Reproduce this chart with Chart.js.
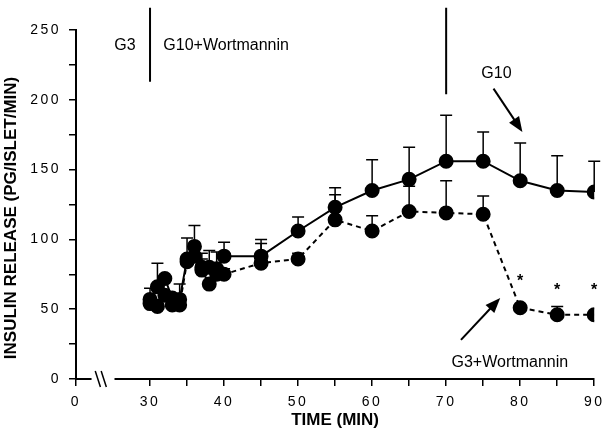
<!DOCTYPE html>
<html>
<head>
<meta charset="utf-8">
<script src="https://cdn.jsdelivr.net/npm/chart.js@4.4.1/dist/chart.umd.min.js"></script>
<style>
  html, body { margin: 0; background: #fff; }
  #wrap { width: 610px; height: 443px; }
</style>
</head>
<body>
<div id="wrap"><canvas id="insulinChart"></canvas></div>
<script>
  // time points (min); the axis is broken, "0" is drawn where 20 would be
  const times = [30, 31, 32, 33, 34, 35, 36, 37, 38, 39, 40, 45, 50, 55, 60, 65, 70, 75, 80, 85, 90];

  // G10+Wortmannin -> G10 (solid)
  const g10 = [57, 66, 72, 58, 57, 86, 95, 80, 80, 79, 88, 88, 106, 123, 135, 143, 156, 156, 142, 135, 134];
  const g10Err = [8, 17, 0, 0, 11, 15, 15, 10, 12, 12, 10, 12, 10, 14, 22, 23, 33, 21, 27, 25, 22];

  // G10+Wortmannin -> G3+Wortmannin (dashed)
  const g3wort = [54, 52, 60, 53, 53, 84, 88, 78, 68, 75, 75, 83, 86, 114, 106, 120, 119, 118, 51, 46, 46];
  const g3wortErr = [4, 5, 0, 0, 3, 3, 5, 8, 2, 4, 4, 14, 4, 18, 11, 18, 23, 13, 0, 6, 0];

  const starTimes = [80, 85, 90];
  const starLevels = [70, 63, 63];

  const zeroAt = 20;   // where the "0" tick sits on the broken axis
  const yTicks = [0, 50, 100, 150, 200, 250];
  const xTitle = 'TIME (MIN)';
  const yTitle = 'INSULIN RELEASE (PG/ISLET/MIN)';

  const FONT = "'Liberation Sans', Arial, Helvetica, sans-serif";

  function arrow(ctx, x1, y1, x2, y2) {
    const a = Math.atan2(y2 - y1, x2 - x1);
    const hl = 15, hw = 6;
    ctx.beginPath();
    ctx.moveTo(x1, y1);
    ctx.lineTo(x2 - Math.cos(a) * hl * 0.8, y2 - Math.sin(a) * hl * 0.8);
    ctx.stroke();
    ctx.beginPath();
    ctx.moveTo(x2, y2);
    ctx.lineTo(x2 - Math.cos(a) * hl - Math.sin(a) * hw, y2 - Math.sin(a) * hl + Math.cos(a) * hw);
    ctx.lineTo(x2 - Math.cos(a) * hl + Math.sin(a) * hw, y2 - Math.sin(a) * hl - Math.cos(a) * hw);
    ctx.closePath();
    ctx.fill();
  }

  const extras = {
    id: 'extras',
    beforeDraw(chart) {
      // spaced-out tick numbers like the original
      chart.ctx.letterSpacing = '2.5px';
    },
    beforeDatasetsDraw(chart) {
      const ctx = chart.ctx, xs = chart.scales.x, ys = chart.scales.y;
      ctx.save();
      ctx.strokeStyle = '#000';
      ctx.lineWidth = 1.5;
      [[g10, g10Err], [g3wort, g3wortErr]].forEach(([vals, errs]) => {
        times.forEach((t, i) => {
          if (!errs[i]) return;
          const x = xs.getPixelForValue(t);
          const y0 = ys.getPixelForValue(vals[i]);
          const y1 = ys.getPixelForValue(vals[i] + errs[i]);
          ctx.beginPath();
          ctx.moveTo(x, y0); ctx.lineTo(x, y1);
          ctx.moveTo(x - 6, y1); ctx.lineTo(x + 6, y1);
          ctx.stroke();
        });
      });
      ctx.restore();
    },
    afterDraw(chart) {
      const ctx = chart.ctx, xs = chart.scales.x, ys = chart.scales.y;
      const X = v => xs.getPixelForValue(v), Y = v => ys.getPixelForValue(v);
      const area = chart.chartArea;
      ctx.save();
      ctx.letterSpacing = '0px';

      // axis break
      const base = Y(0);
      ctx.fillStyle = '#fff';
      ctx.fillRect(X(22.1), base - 3, X(25.2) - X(22.1), 6);
      ctx.strokeStyle = '#000';
      ctx.lineWidth = 1.5;
      ctx.beginPath();
      ctx.moveTo(X(22.6), base - 8); ctx.lineTo(X(23.3), base + 8);
      ctx.moveTo(X(23.4), base - 8); ctx.lineTo(X(24.1), base + 8);
      ctx.stroke();

      // axis titles
      ctx.fillStyle = '#000';
      ctx.font = 'bold 17px ' + FONT;
      ctx.textAlign = 'center';
      ctx.textBaseline = 'middle';
      ctx.fillText(xTitle, (area.left + area.right) / 2, 420);
      ctx.save();
      ctx.translate(11, 218);
      ctx.rotate(-Math.PI / 2);
      ctx.fillText(yTitle, 0, 0);
      ctx.restore();

      // condition change markers
      ctx.lineWidth = 2;
      ctx.beginPath();
      ctx.moveTo(X(30), Y(266)); ctx.lineTo(X(30), Y(213));
      ctx.moveTo(X(70), Y(266)); ctx.lineTo(X(70), Y(204));
      ctx.stroke();

      ctx.font = '16px ' + FONT;
      ctx.fillText('G3', X(26.6), Y(239));
      ctx.textAlign = 'left';
      ctx.fillText('G10+Wortmannin', X(31.8), Y(239));
      ctx.textAlign = 'center';
      ctx.fillText('G10', X(76.8), Y(219));
      ctx.fillText('G3+Wortmannin', X(78.6), Y(12));

      ctx.lineWidth = 2;
      arrow(ctx, X(76.4), Y(208), X(80.3), Y(177));
      arrow(ctx, X(72.0), Y(28), X(77.3), Y(58));

      ctx.font = 'bold 16px ' + FONT;
      starTimes.forEach((t, i) => ctx.fillText('*', X(t), Y(starLevels[i])));
      ctx.restore();
    }
  };

  const tickFont = { family: FONT, size: 14 };

  new Chart(document.getElementById('insulinChart'), {
    type: 'line',
    data: {
      labels: times,
      datasets: [
        {
          label: 'G10',
          data: times.map((t, i) => ({ x: t, y: g10[i] })),
          borderColor: '#000',
          borderWidth: 2,
          pointRadius: 6.5,
          pointBackgroundColor: '#000',
          pointBorderColor: '#000',
          fill: false,
          tension: 0
        },
        {
          label: 'G3+Wortmannin',
          data: times.map((t, i) => ({ x: t, y: g3wort[i] })),
          borderColor: '#000',
          borderWidth: 2,
          borderDash: [5, 4],
          pointRadius: 6.5,
          pointBackgroundColor: '#000',
          pointBorderColor: '#000',
          fill: false,
          tension: 0
        }
      ]
    },
    options: {
      responsive: true,
      maintainAspectRatio: false,
      animation: false,
      events: [],
      layout: { padding: { left: 0, top: 30, right: 10, bottom: 0 } },
      plugins: { legend: { display: false }, tooltip: { enabled: false } },
      scales: {
        x: {
          type: 'linear',
          min: zeroAt,
          max: 90,
          afterBuildTicks: s => { s.ticks = s.ticks.filter(t => t.value !== 25); },
          afterFit: s => { s.height = 64; },
          ticks: {
            stepSize: 5,
            color: '#000',
            font: tickFont,
            padding: 8,
            maxRotation: 0,
            autoSkip: false,
            callback: v => v === zeroAt ? '0' : (v % 10 === 0 ? String(v) : '')
          },
          grid: { drawOnChartArea: false, tickLength: 7, color: '#000', lineWidth: 1.5 },
          border: { color: '#000', width: 2 }
        },
        y: {
          min: 0,
          max: 250,
          afterFit: s => { s.width = 76; },
          ticks: {
            stepSize: 25,
            color: '#000',
            font: tickFont,
            padding: 8,
            autoSkip: false,
            callback: v => yTicks.includes(v) ? String(v) : ''
          },
          grid: { drawOnChartArea: false, tickLength: 7, color: '#000', lineWidth: 1.5 },
          border: { color: '#000', width: 2 }
        }
      }
    },
    plugins: [extras]
  });
</script>
</body>
</html>
